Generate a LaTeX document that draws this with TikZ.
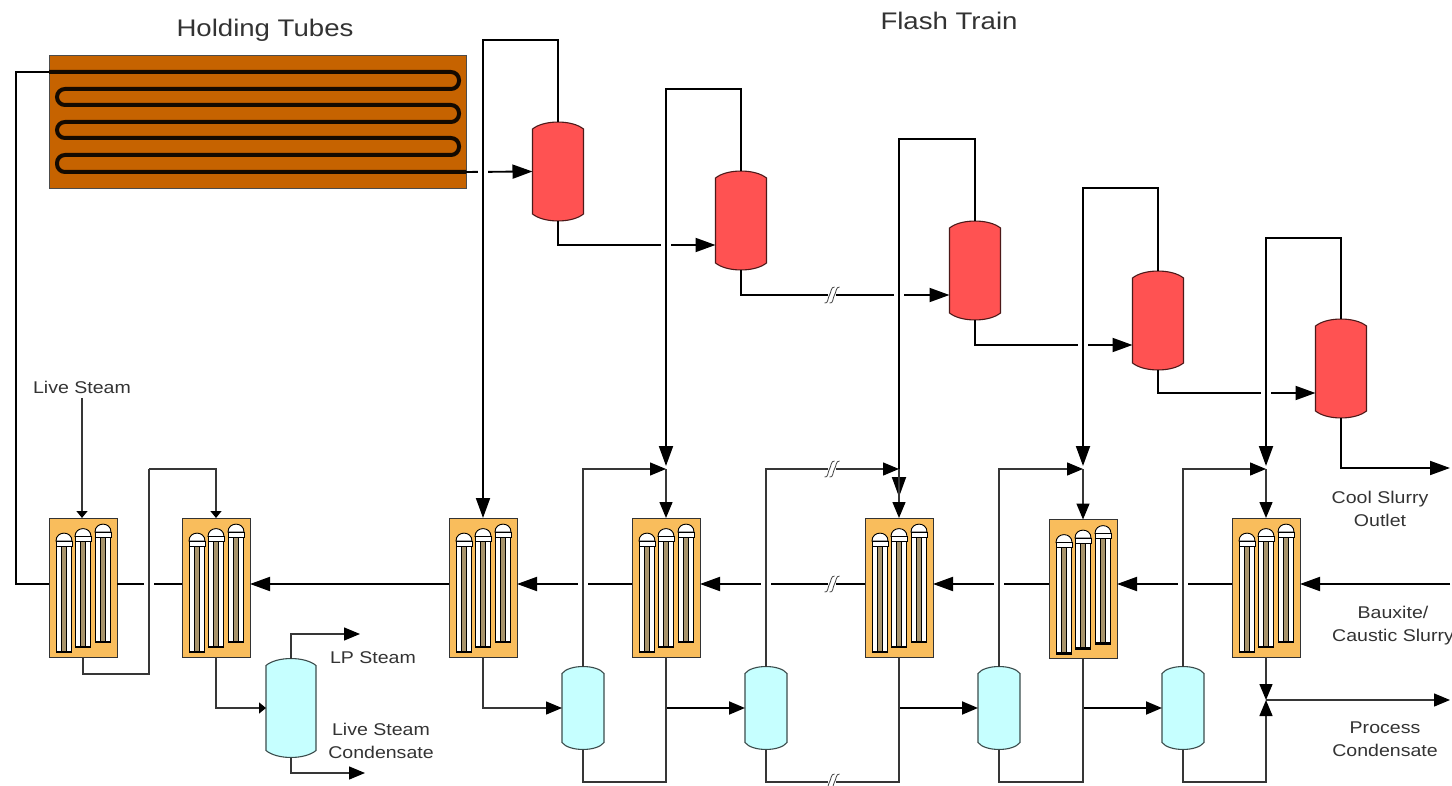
\documentclass[tikz,border=0pt]{standalone}
\usepackage{fontspec}
\setmainfont[FakeStretch=1.15]{Liberation Sans}
\usetikzlibrary{arrows.meta, positioning, calc}
\definecolor{tubebox}{HTML}{C66300}
\definecolor{hotfill}{HTML}{FF5252}
\definecolor{coldfill}{HTML}{C6FFFF}
\definecolor{heatfill}{HTML}{F9BD5C}
\definecolor{corefill}{HTML}{A8946C}
\definecolor{inkline}{HTML}{363636}
\definecolor{textgrey}{HTML}{333333}
\tikzset{
  flash/.style={rectangle, minimum width=51, minimum height=99, inner sep=0, outer sep=0},
  cooler/.style={rectangle, minimum width=42, minimum height=83, inner sep=0, outer sep=0},
  lpdrum/.style={rectangle, minimum width=50, minimum height=99, inner sep=0, outer sep=0},
  heater/.style={rectangle, draw=black!80, line width=0.9pt, fill=heatfill,
                 minimum width=68, minimum height=139, inner sep=0, outer sep=0},
  lbl/.style={align=center, text=textgrey, font=\fontsize{17}{23}\selectfont},
  ttl/.style={align=center, text=textgrey, font=\fontsize{24}{28}\selectfont},
  hotl/.style={draw=black, line width=1.9pt},
  thinl/.style={draw=inkline, line width=1.4pt},
  big/.style={-{Triangle[length=20, width=14, color=black]}},
  med/.style={-{Triangle[length=16, width=13, color=black]}},
  small/.style={-{Triangle[length=7, width=11, color=black]}},
  gapbox/.style={rectangle, fill=white, minimum width=10, minimum height=6, inner sep=0},
  breakmark/.pic={
    \fill[white] (-4,-6) rectangle (4,6);
    \foreach \d in {-2.5,2.5}
      \draw[black!75, line width=0.8pt] (\d-5,8) .. controls (\d-1,9) and (\d-2,3) .. (\d,0)
        .. controls (\d+2,-3) and (\d+1,-8) .. (\d+5,-8);
  },
}
\newcommand{\vesselbody}[2]{%
  \draw[#2, line width=1.1pt] ($(#1.north west)+(0,7)$)
    .. controls ($(#1.north)+(-14,-2.3)$) and ($(#1.north)+(14,-2.3)$) .. ($(#1.north east)+(0,7)$)
    -- ($(#1.south east)+(0,-7)$)
    .. controls ($(#1.south)+(14,2.3)$) and ($(#1.south)+(-14,2.3)$) .. ($(#1.south west)+(0,-7)$)
    -- cycle;}
\newcommand{\heatertubes}[1]{%
  \begin{scope}[shift={(#1.north west)}]
    \foreach \cx/\tp/\bt in {15/15/134, 34/10.5/129, 54/6/124} {
      \draw[fill=white, line width=0.8pt] (\cx-7.5,\tp+12) rectangle (\cx+7.5,\bt);
      \draw[fill=corefill, line width=0.5pt] (\cx-2.5,\tp+8) rectangle (\cx+2.5,\bt);
      \draw[fill=white, line width=0.9pt] (\cx-8,\tp+8) .. controls (\cx-8,\tp-2.5) and (\cx+8,\tp-2.5) .. (\cx+8,\tp+8) -- cycle;
      \draw[fill=white, line width=0.7pt] (\cx-8,\tp+8) rectangle (\cx+8,\tp+13);
      \fill[black] (\cx-8,\bt-1.5) rectangle (\cx+8,\bt+1);
    }
  \end{scope}}

\begin{document}
\begin{tikzpicture}[x=1pt, y=-1pt]
  \useasboundingbox (0,0) rectangle (1452,786);

  \node[ttl] (holdlbl) at (265,30) {Holding Tubes};
  \node[ttl] (flashlbl) at (949,21) {Flash Train};

  \node[rectangle, draw=black!70, fill=tubebox, minimum width=417, minimum height=133, inner sep=0, outer sep=0] (tubes) at (257.5,121.5) {};
  \coordinate (tubein) at (tubes.west |- 0,72);
  \coordinate (tubeout) at (tubes.east |- 0,172);

  \foreach \nm/\x/\y in {fl1/558/171.5, fl2/741/220.5, fl3/975/270.5, fl4/1158/320.5, fl5/1341/368.5} {
    \node[flash] (\nm) at (\x,\y) {};
    \vesselbody{\nm}{fill=hotfill, draw=black!70!hotfill}
    \coordinate (\nm in) at ($(\nm.west)+(0,24.5)$);
  }
  \foreach \nm/\x/\y in {co1/583/708, co2/766/708, co3/999/708, co4/1183/708} {
    \node[cooler] (\nm) at (\x,\y) {};
    \vesselbody{\nm}{fill=coldfill, draw=black!70!coldfill}
  }
  \node[lpdrum] (lp) at (291,708) {};
  \vesselbody{lp}{fill=coldfill, draw=black!70!coldfill}

  \foreach \nm/\x/\y in {he1/83/587.5, he2/216/587.5, he3/483/587.5, he4/666/587.5, he5/899/587.5, he6/1083/589, he7/1266/587.5} {
    \node[heater] (\nm) at (\x,\y) {};
    \heatertubes{\nm}
  }

  \coordinate (feedin) at (1450,584);
  \coordinate (steamin) at (82,398);
  \coordinate (steamtop) at (149,469);
  \coordinate (steamlow) at (149,674);
  \coordinate (lpout) at (360,634);
  \coordinate (lscout) at (365,773);
  \coordinate (slurryout) at (1450,468);
  \coordinate (pcjoin) at (1266,700);
  \coordinate (pcout) at (1450,700);
  \coordinate (j4) at (666,466);
  \coordinate (j5) at (899,497);
  \coordinate (j6) at (1083,466);
  \coordinate (j7) at (1266,466);

  % slurry and flash lines first, crossings are cut afterwards
  \draw[hotl, big] (feedin) -- (he7.east |- feedin);
  \foreach \src/\dst in {he7/he6, he6/he5, he5/he4, he4/he3, he3/he2}
    \draw[hotl, big] (\src.west |- feedin) -- (\dst.east |- feedin);
  \draw[hotl] (he2.west |- feedin) -- (he1.east |- feedin);
  \draw[hotl] (he1.west |- feedin) -| (16,72) -- (tubein);
  \draw[line width=4pt, draw=black!90!tubebox, rounded corners=8] (tubein) -- (459,72) -- (459,89) -- (57,89) -- (57,105)
    -- (459,105) -- (459,122) -- (57,122) -- (57,138) -- (459,138) -- (459,155) -- (57,155) -- (57,172) -- (tubeout);
  \draw[hotl, big] (tubeout) -- (fl1.west);
  \foreach \src/\dst in {fl1/fl2, fl2/fl3, fl3/fl4, fl4/fl5}
    \draw[hotl, big] (\src.south) |- (\dst in);
  \draw[hotl, big] (fl5.south) |- (slurryout);

  \foreach \src/\dst in {he3/tubeout, he4/fl2in, he5/fl3in, he6/fl4in, he7/fl5in}
    \node[gapbox] at (\src.north |- \dst) {};
  \foreach \src in {co1, co2, co3, co4}
    \node[gapbox] at (\src.north |- feedin) {};
  \node[gapbox] at (steamtop |- feedin) {};
  \pic at (832,584) {breakmark};
  \pic at (832,295) {breakmark};

  \foreach \src/\dst/\ytop in {fl1/he3.north/40, fl2/j4/89, fl3/j5/139, fl4/j6/188, fl5/j7/238}
    \draw[hotl, big] (\src.north) |- (\dst |- 0,\ytop) -- (\dst);

  \foreach \src/\dst in {co1/j4, co2/he5, co3/j6, co4/j7}
    \draw[thinl, med] (\src.north) |- (\dst.center |- 0,469);
  \pic at (832,469) {breakmark};
  \draw[thinl, med] (j4 |- 0,469) -- (he4.north);
  \draw[thinl, med] (he5.north |- 0,469) -- (he5.north);
  \draw[thinl, med] (j6 |- 0,469) -- (he6.north);
  \draw[thinl, med] (j7 |- 0,469) -- (he7.north);

  \draw[thinl, med] (he3.south) |- (co1.west);
  \foreach \src/\dst in {he4/co2, he5/co3, he6/co4}
    \draw[hotl, med] (\src.south |- \dst.west) -- (\dst.west);
  \foreach \src/\dst in {co1/he4, co2/he5, co3/he6}
    \draw[thinl] (\src.south) |- (\dst.south |- 0,782) -- (\dst.south);
  \pic at (832,782) {breakmark};
  \draw[thinl, med] (co4.south) |- (pcjoin |- 0,782) -- (pcjoin);
  \draw[thinl, med] (he7.south) -- (pcjoin);
  \draw[thinl, med] (pcjoin) -- (pcout);

  \draw[thinl, small] (steamin) -- (steamin |- he1.north);
  \draw[thinl] (he1.south) |- (steamlow) -- (steamtop);
  \draw[thinl, small] (steamtop) -| (he2.north);
  \draw[thinl, small] (he2.south) |- (lp.west);
  \draw[thinl, med] (lp.north) |- (lpout);
  \draw[thinl, med] (lp.south) |- (lscout);

  \node[lbl] (steamlbl) at (82,387) {Live Steam};
  \node[lbl] (lplbl) at (373,658) {LP Steam};
  \node[lbl] (lsclbl) at (381,741) {Live Steam\\Condensate};
  \node[lbl] (slurrylbl) at (1380,509) {Cool Slurry\\Outlet};
  \node[lbl] (feedlbl) at (1393,626) {Bauxite/\\Caustic Slurry};
  \node[lbl] (pclbl) at (1385,739) {Process\\Condensate};
\end{tikzpicture}
\end{document}
